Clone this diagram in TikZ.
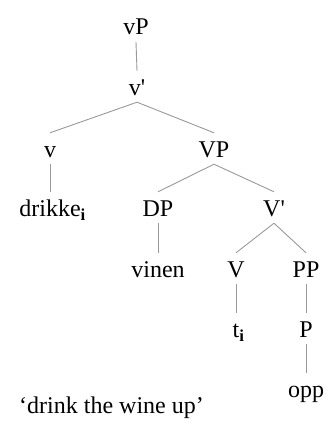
\documentclass[tikz,border=0pt]{standalone}
\usepackage{fontspec}
\setmainfont{Liberation Serif}[Ligatures=TeXOff]
\begin{document}
\begin{tikzpicture}[x=1pt,y=-1pt,
  lab/.style={anchor=base,inner xsep=0pt,inner ysep=7pt,text height=17pt,text depth=0pt,font=\fontsize{24}{28}\selectfont},
  br/.style={draw=black!40,line width=0.9pt}]
\useasboundingbox (0,0) rectangle (327,436);
\node[lab] (vP) at (136,35) {vP};
\node[lab] (vbar) at (137,95) {v'};
\node[lab] (v) at (50,157) {v};
\node[lab] (VP) at (214,157) {VP};
\node[lab] (drikke) at (50,216) {drikke\rlap{\raisebox{-1pt}{\textsubscript{\textbf{i}}}}};
\node[lab] (DP) at (158,216) {DP};
\node[lab] (Vbar) at (274,216) {V'};
\node[lab] (vinen) at (158,277) {vinen};
\node[lab] (V) at (236,277) {V};
\node[lab] (PP) at (306,277) {PP};
\node[lab] (t) at (236,337) {t\rlap{\raisebox{-1pt}{\textsubscript{\textbf{i}}}}};
\node[lab] (P) at (306,337) {P};
\node[lab] (opp) at (306,397) {opp};
\node[anchor=base west,inner sep=0pt,font=\fontsize{24}{28}\selectfont] (gloss) at (19,413) {‘drink the wine up’};
\draw[br] (vP.south) -- (vbar.north);
\draw[br] (vbar.south) -- (v.north);
\draw[br] (vbar.south) -- (VP.north);
\draw[br] (v.south) -- (drikke.north);
\draw[br] (VP.south) -- (DP.north);
\draw[br] (VP.south) -- (Vbar.north);
\draw[br] (DP.south) -- (vinen.north);
\draw[br] (Vbar.south) -- (V.north);
\draw[br] (Vbar.south) -- (PP.north);
\draw[br] (V.south) -- (t.north);
\draw[br] (PP.south) -- (P.north);
\draw[br] (P.south) -- (opp.north);
\end{tikzpicture}
\end{document}
